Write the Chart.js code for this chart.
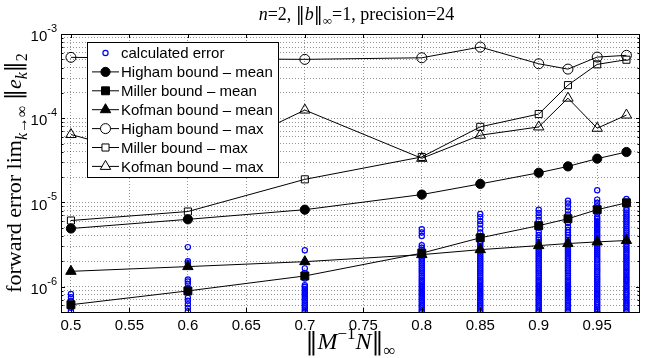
<!DOCTYPE html>
<html>
<head>
<meta charset="utf-8">
<script src="https://cdn.jsdelivr.net/npm/chart.js@4.4.1/dist/chart.umd.min.js"></script>
<style>
  html, body { margin: 0; padding: 0; background: #fff; }
  #wrap { width: 647px; height: 358px; }
</style>
</head>
<body>
<div id="wrap"><canvas id="chart" width="647" height="358"></canvas></div>
<script>
// x positions of the experiments
const xs = [0.5, 0.6, 0.7, 0.8, 0.85, 0.9, 0.925, 0.95, 0.975];

// bound curves
const highamMean = [4.9e-6, 6.3e-6, 8.2e-6, 1.24e-5, 1.66e-5, 2.25e-5, 2.68e-5, 3.31e-5, 3.97e-5];
const millerMean = [6.1e-7, 8.9e-7, 1.34e-6, 2.5e-6, 3.8e-6, 5.3e-6, 6.4e-6, 8.2e-6, 9.9e-6];
const kofmanMean = [1.52e-6, 1.73e-6, 1.98e-6, 2.4e-6, 2.75e-6, 3.07e-6, 3.25e-6, 3.4e-6, 3.53e-6];
const highamMax = [5.28e-4, 5.1e-4, 5.0e-4, 5.22e-4, 7.0e-4, 4.43e-4, 3.83e-4, 5.32e-4, 5.58e-4];
const millerMax = [6.1e-6, 7.8e-6, 1.88e-5, 3.47e-5, 7.9e-5, 1.12e-4, 2.47e-4, 4.36e-4, 4.95e-4];
const kofmanMax = [6.4e-5, 2.7e-5, 1.25e-4, 3.34e-5, 6.28e-5, 7.88e-5, 1.73e-4, 7.6e-5, 1.09e-4];

// calculated errors, one column per x (values in units of 1e-6)
const err050 = [0.82, 0.75, 0.68, 0.62, 0.56, 0.51];
const err060 = [2.95, 2.0, 1.9, 1.22, 1.15, 1.08, 0.96, 0.86, 0.74, 0.68, 0.62, 0.56, 0.51];
const err070 = [2.7, 1.65, 1.45, 1.25, 1.04, 0.99, 0.94, 0.89, 0.84, 0.80, 0.76, 0.72, 0.68, 0.645,
                0.61, 0.58, 0.55, 0.52, 0.50];
const err080 = [4.8, 4.4, 4.0, 3.1, 2.9, 2.74, 2.6, 2.46, 2.33, 2.21, 2.1, 1.99, 1.88, 1.78, 1.69, 1.6,
                1.52, 1.44, 1.36, 1.29, 1.22, 1.16, 1.1, 1.04, 0.99, 0.94, 0.89, 0.84, 0.80, 0.76, 0.72,
                0.68, 0.645, 0.61, 0.58, 0.55, 0.52, 0.50];
const err085 = [7.3, 6.7, 6.0, 5.5, 4.9, 4.4, 4.0, 3.7, 3.4, 3.22, 3.05, 2.89, 2.74, 2.6, 2.46, 2.33,
                2.21, 2.1, 1.99, 1.88, 1.78, 1.69, 1.6, 1.52, 1.44, 1.36, 1.29, 1.22, 1.16, 1.1, 1.04,
                0.99, 0.94, 0.89, 0.84, 0.80, 0.76, 0.72, 0.68, 0.645, 0.61, 0.58, 0.55, 0.52, 0.50];
const err090 = [8.2, 7.5, 6.8, 6.2, 5.5, 5.0, 4.5, 4.1, 3.8, 3.6, 3.4, 3.22, 3.05, 2.89, 2.74, 2.6,
                2.46, 2.33, 2.21, 2.1, 1.99, 1.88, 1.78, 1.69, 1.6, 1.52, 1.44, 1.36, 1.29, 1.22, 1.16,
                1.1, 1.04, 0.99, 0.94, 0.89, 0.84, 0.80, 0.76, 0.72, 0.68, 0.645, 0.61, 0.58, 0.55, 0.52, 0.50];
const err0925 = [10.5, 9.7, 8.8, 8.0, 7.2, 6.4, 5.7, 5.1, 4.7, 4.4, 4.1, 3.85, 3.6, 3.4, 3.22, 3.05,
                 2.89, 2.74, 2.6, 2.46, 2.33, 2.21, 2.1, 1.99, 1.88, 1.78, 1.69, 1.6, 1.52, 1.44, 1.36,
                 1.29, 1.22, 1.16, 1.1, 1.04, 0.99, 0.94, 0.89, 0.84, 0.80, 0.76, 0.72, 0.68, 0.645,
                 0.61, 0.58, 0.55, 0.52, 0.50];
const err095 = [14.0, 10.8, 9.9, 9.0, 8.2, 7.4, 6.7, 6.35, 6.0, 5.7, 5.4, 5.1, 4.85, 4.6, 4.35, 4.1,
                3.9, 3.7, 3.5, 3.32, 3.15, 2.98, 2.82, 2.67, 2.53, 2.4, 2.27, 2.15, 2.04, 1.93, 1.83,
                1.73, 1.64, 1.56, 1.48, 1.4, 1.32, 1.25, 1.19, 1.13, 1.07, 1.01, 0.96, 0.91, 0.86,
                0.82, 0.78, 0.74, 0.70, 0.66, 0.63, 0.60, 0.57, 0.54, 0.51, 0.50];
const err0975 = [11.0, 10.2, 9.3, 8.5, 8.05, 7.6, 7.2, 6.8, 6.45, 6.1, 5.8, 5.5, 5.2, 4.9, 4.65, 4.4,
                 4.15, 3.95, 3.75, 3.55, 3.36, 3.18, 3.01, 2.85, 2.7, 2.56, 2.42, 2.29, 2.17, 2.06, 1.95,
                 1.85, 1.75, 1.66, 1.57, 1.49, 1.41, 1.33, 1.26, 1.2, 1.14, 1.08, 1.02, 0.97, 0.92,
                 0.87, 0.83, 0.79, 0.75, 0.71, 0.67, 0.64, 0.61, 0.58, 0.55, 0.52, 0.50];
const errCols = [err050, err060, err070, err080, err085, err090, err0925, err095, err0975];
const errUnit = 1e-6;

// axes
const xTicks = [0.5, 0.55, 0.6, 0.65, 0.7, 0.75, 0.8, 0.85, 0.9, 0.95];
const yTicks = [5e-7, 6e-7, 7e-7, 8e-7, 9e-7,
                1e-6, 2e-6, 3e-6, 4e-6, 5e-6, 6e-6, 7e-6, 8e-6, 9e-6,
                1e-5, 2e-5, 3e-5, 4e-5, 5e-5, 6e-5, 7e-5, 8e-5, 9e-5,
                1e-4, 2e-4, 3e-4, 4e-4, 5e-4, 6e-4, 7e-4, 8e-4, 9e-4, 1e-3];
const yMajor = [1e-6, 1e-5, 1e-4, 1e-3];
const yMajorExp = ['-6', '-5', '-4', '-3'];

const SANS = '"Liberation Sans", Arial, sans-serif';
const SERIF = '"Liberation Serif", "Times New Roman", serif';

function pts(ys) {
  return xs.map((x, i) => ({ x: x, y: ys[i] }));
}

const errPoints = [];
errCols.forEach((col, i) => col.forEach(v => errPoints.push({ x: xs[i], y: v * errUnit })));

const bounds = [
  { label: 'Higham bound \u2013 mean', data: highamMean, style: 'circle', r: 4.6, fill: true },
  { label: 'Miller bound \u2013 mean', data: millerMean, style: 'rect', r: 5.6, fill: true },
  { label: 'Kofman bound \u2013 mean', data: kofmanMean, style: 'triangle', r: 6, fill: true },
  { label: 'Higham bound \u2013 max', data: highamMax, style: 'circle', r: 5, fill: false },
  { label: 'Miller bound \u2013 max', data: millerMax, style: 'rect', r: 5, fill: false },
  { label: 'Kofman bound \u2013 max', data: kofmanMax, style: 'triangle', r: 6, fill: false }
];

const datasets = [{
  label: 'calculated error',
  data: errPoints,
  showLine: false,
  pointStyle: 'circle',
  pointRadius: 2.6,
  pointBorderWidth: 1.2,
  pointBorderColor: '#0000ff',
  pointBackgroundColor: 'rgba(0,0,0,0)',
  order: 10
}];
bounds.forEach(b => {
  datasets.push({
    label: b.label,
    data: pts(b.data),
    showLine: true,
    borderColor: '#000',
    borderWidth: 1,
    pointStyle: b.style,
    pointRadius: b.r,
    pointBorderWidth: 1,
    pointBorderColor: '#000',
    pointBackgroundColor: b.fill ? '#000' : 'rgba(0,0,0,0)',
    order: 1
  });
});

function richText(ctx, segs, x, y, size, family, rotate) {
  const parts = segs.map(s => {
    const fs = (s.sub || s.sup) ? Math.round(size * 0.72) : size;
    const fam = s.f || family;
    const font = (s.i ? 'italic ' : '') + fs + 'px ' + fam;
    ctx.font = font;
    return { t: s.t, font: font, w: ctx.measureText(s.t).width,
             dy: s.sub ? size * 0.28 : (s.sup ? -size * 0.42 : 0) };
  });
  const total = parts.reduce((a, p) => a + p.w, 0);
  ctx.save();
  ctx.translate(x, y);
  if (rotate) ctx.rotate(-Math.PI / 2);
  ctx.fillStyle = '#000';
  ctx.textAlign = 'left';
  ctx.textBaseline = 'alphabetic';
  let cx = -total / 2;
  parts.forEach(p => { ctx.font = p.font; ctx.fillText(p.t, cx, p.dy); cx += p.w; });
  ctx.restore();
}

function marker(ctx, style, r, fill, x, y) {
  ctx.beginPath();
  if (style === 'circle') {
    ctx.arc(x, y, r, 0, Math.PI * 2);
  } else if (style === 'rect') {
    const s = r * Math.SQRT1_2;
    ctx.rect(x - s, y - s, 2 * s, 2 * s);
  } else {
    for (let k = 0; k < 3; k++) {
      const a = k * 2 * Math.PI / 3;
      const px = x + Math.sin(a) * r, py = y - Math.cos(a) * r;
      if (k === 0) ctx.moveTo(px, py); else ctx.lineTo(px, py);
    }
    ctx.closePath();
  }
  ctx.fillStyle = fill ? '#000' : '#fff';
  ctx.fill();
  ctx.stroke();
}

const BAR = '"DejaVu Serif", serif';

const decor = {
  id: 'decor',
  afterDraw(chart) {
    const ctx = chart.ctx;
    const a = chart.chartArea;
    const sx = chart.scales.x, sy = chart.scales.y;
    ctx.save();

    // frame
    ctx.strokeStyle = '#000';
    ctx.lineWidth = 1;
    ctx.strokeRect(Math.round(a.left) + 0.5, Math.round(a.top) + 0.5,
                   Math.round(a.right - a.left) - 1, Math.round(a.bottom - a.top));

    // inward ticks
    ctx.beginPath();
    xTicks.forEach(v => {
      const px = Math.round(sx.getPixelForValue(v)) + 0.5;
      ctx.moveTo(px, a.bottom); ctx.lineTo(px, a.bottom - 4);
      ctx.moveTo(px, a.top); ctx.lineTo(px, a.top + 4);
    });
    yTicks.forEach(v => {
      const py = Math.round(sy.getPixelForValue(v)) + 0.5;
      const len = yMajor.includes(v) ? 4 : 2.5;
      ctx.moveTo(a.left, py); ctx.lineTo(a.left + len, py);
      ctx.moveTo(a.right, py); ctx.lineTo(a.right - len, py);
    });
    ctx.stroke();

    // x tick labels
    ctx.fillStyle = '#000';
    ctx.font = '15px ' + SANS;
    ctx.textAlign = 'center';
    ctx.textBaseline = 'middle';
    xTicks.forEach(v => {
      ctx.fillText(String(v), sx.getPixelForValue(v), a.bottom + 14);
    });

    // y tick labels 10^k
    yMajor.forEach((v, i) => {
      const py = sy.getPixelForValue(v);
      ctx.font = '11px ' + SANS;
      ctx.textAlign = 'right';
      ctx.textBaseline = 'middle';
      const ew = ctx.measureText(yMajorExp[i]).width;
      ctx.fillText(yMajorExp[i], a.left - 4, py - 5);
      ctx.font = '15px ' + SANS;
      ctx.fillText('10', a.left - 4 - ew, py + 3);
    });

    // title and axis labels
    richText(ctx, [{ t: 'n', i: true }, { t: '=2, ' }, { t: '\u2016', f: BAR }, { t: 'b', i: true },
                   { t: '\u2016', f: BAR }, { t: '\u221e', sub: true }, { t: '=1, precision=24' }],
             (a.left + a.right) / 2 + 6, 20, 18, SERIF);
    richText(ctx, [{ t: '\u2016', f: BAR }, { t: 'M', i: true }, { t: '\u22121', sup: true },
                   { t: 'N', i: true }, { t: '\u2016', f: BAR }, { t: '\u221e', sub: true }],
             (a.left + a.right) / 2, 349, 24, SERIF);
    richText(ctx, [{ t: 'forward error lim' }, { t: 'k', i: true, sub: true }, { t: '\u2192\u221e', sub: true },
                   { t: ' ' }, { t: '\u2016', f: BAR }, { t: 'e', i: true }, { t: 'k', i: true, sub: true },
                   { t: '\u2016', f: BAR }, { t: '2', sub: true }],
             21, (a.top + a.bottom) / 2, 22, SERIF, true);

    // legend box
    const lx = 87, ly = 42, lw = 191, lh = 135;
    ctx.fillStyle = '#fff';
    ctx.fillRect(lx, ly, lw, lh);
    ctx.strokeStyle = '#000';
    ctx.lineWidth = 1;
    ctx.strokeRect(lx + 0.5, ly + 0.5, lw, lh);
    ctx.font = '15px ' + SANS;
    ctx.textAlign = 'left';
    ctx.textBaseline = 'middle';
    const rowY = k => 53 + k * 18.9;
    ctx.strokeStyle = '#0000ff';
    ctx.lineWidth = 1.2;
    ctx.beginPath();
    ctx.arc(105.5, rowY(0), 2.6, 0, Math.PI * 2);
    ctx.stroke();
    ctx.lineWidth = 1;
    ctx.fillStyle = '#000';
    ctx.fillText('calculated error', 121, rowY(0) + 1);
    bounds.forEach((b, k) => {
      const y = rowY(k + 1);
      ctx.strokeStyle = '#000';
      ctx.beginPath();
      ctx.moveTo(92, y); ctx.lineTo(119, y);
      ctx.stroke();
      marker(ctx, b.style, b.r, b.fill, 105.5, y);
      ctx.fillStyle = '#000';
      ctx.fillText(b.label, 121, y + 1);
    });

    ctx.restore();
  }
};

new Chart(document.getElementById('chart').getContext('2d'), {
  type: 'scatter',
  data: { datasets: datasets },
  options: {
    responsive: false,
    animation: false,
    layout: { padding: { left: 61, top: 34, right: 1, bottom: 46 } },
    plugins: { legend: { display: false }, title: { display: false }, tooltip: { enabled: false } },
    scales: {
      x: {
        type: 'linear',
        min: 0.4915,
        max: 0.9866,
        afterBuildTicks: s => { s.ticks = xTicks.map(v => ({ value: v })); },
        ticks: { display: false },
        grid: { color: 'rgba(0,0,0,0.42)', drawTicks: false, lineWidth: 1 },
        border: { display: false, dash: [1, 2] }
      },
      y: {
        type: 'logarithmic',
        min: 5e-7,
        max: 1e-3,
        afterBuildTicks: s => { s.ticks = yTicks.map(v => ({ value: v })); },
        ticks: { display: false },
        grid: { color: 'rgba(0,0,0,0.42)', drawTicks: false, lineWidth: 1 },
        border: { display: false, dash: [1, 2] }
      }
    }
  },
  plugins: [decor]
});
</script>
</body>
</html>
